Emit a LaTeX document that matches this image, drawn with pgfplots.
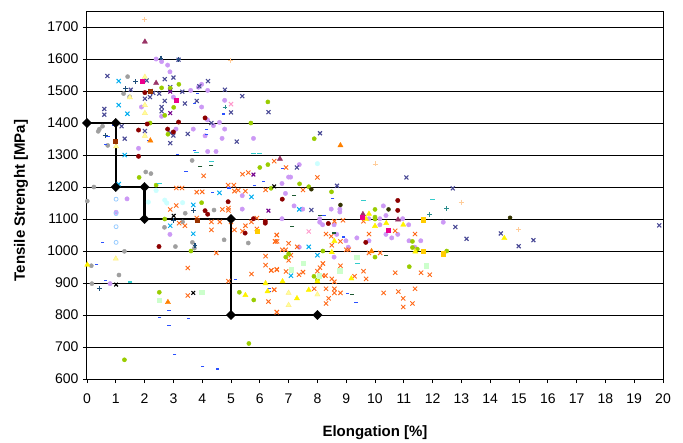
\documentclass[border=0pt]{standalone}
\usepackage{fontspec}
\setmainfont{Liberation Sans}
\usepackage{pgfplots}
\pgfplotsset{compat=1.18}
\usetikzlibrary{plotmarks}
\definecolor{slate}{HTML}{4A4A96}
\definecolor{lav}{HTML}{CC99F5}
\definecolor{oran}{HTML}{FF6A1A}
\definecolor{lime}{HTML}{99CC00}
\definecolor{maroonT}{HTML}{993366}
\definecolor{gold}{HTML}{FFCC00}
\definecolor{brownS}{HTML}{993300}
\definecolor{darkB}{HTML}{1F4E79}
\definecolor{tealP}{HTML}{2A8C8C}
\definecolor{cyanD}{HTML}{33CCCC}
\definecolor{dkG}{HTML}{1E5A32}
\definecolor{peach}{HTML}{FFCC99}
\definecolor{palecy}{HTML}{CCFFFF}
\definecolor{palegr}{HTML}{CCFFCC}
\definecolor{paley}{HTML}{FFFF99}
\definecolor{ltblue}{HTML}{99CCFF}
\definecolor{olive2}{HTML}{333300}
\definecolor{pinkx}{HTML}{FF99CC}
\definecolor{blueD}{HTML}{2A50FF}
\begin{document}
\begin{tikzpicture}
\useasboundingbox (-87pt,-63pt) rectangle (596pt,379pt);
\begin{axis}[
  scale only axis, width=576pt, height=367pt,
  at={(0pt,0pt)}, anchor=south west,
  xmin=0, xmax=20, ymin=600, ymax=1747,
  xtick={0,1,...,20}, ytick={600,700,...,1700},
  ymajorgrids, grid style={black,line width=0.9pt},
  axis line style={black,line width=1pt},
  tick style={black,line width=0.8pt},
  tick align=outside, major tick length=4pt,
  xtick pos=bottom, ytick pos=left,
  clip=false,
  ticklabel style={font=\fontsize{14}{16}\selectfont},
  yticklabel style={xshift=-1pt},
  xticklabel style={yshift=-7pt},
  /pgf/number format/assume math mode=true,
  /pgf/number format/1000 sep={},
  xlabel={\textbf{Elongation [\%]}},
  ylabel={\textbf{Tensile Strenght [MPa]}},
  label style={font=\fontsize{15}{17}\selectfont},
  xlabel style={at={(axis description cs:0.5,0)},anchor=center,yshift=-54pt},
  ylabel style={at={(axis description cs:0,0.5)},anchor=center,yshift=66pt,xshift=-5pt},
]
% lavender dots
\addplot[only marks,mark=*,mark size=2.2pt,color=lav] coordinates {
(2.4,1600)(2.59,1592)(2.8,1581)(2.88,1560)(3.98,1521)(3.87,1512)(3.6,1502)(4.19,1502)(3.0,1481)(1.89,1450)(3.98,1450)(4.78,1471)(2.59,1421)(4.18,1410)(4.39,1392)(4.6,1402)(4.78,1381)(3.69,1381)(3.09,1381)(4.1,1360)(4.69,1352)(5.78,1352)(1.79,1321)(4.19,1311)(4.48,1311)(1.39,1163)(5.39,1173)(7.37,1270)(7.0,1231)(7.07,1231)(6.77,1211)(6.89,1180)(7.19,1141)(7.49,1131)(6.77,1101)(8.08,1101)(8.08,1090)(8.18,1082)(8.58,1082)(8.48,1131)(8.78,1131)(8.78,1122)(10.29,1141)(10.38,1111)(10.17,1101)(9.79,1101)(10.96,1101)(10.17,1082)(11.17,1082)(12.37,1090)(10.38,1052)(10.79,1052)(10.58,1041)(9.37,1041)(9.79,1032)(8.99,1032)(11.18,1032)(11.59,1032)(8.67,1052)(7.37,1012)(8.58,981)(9.07,1012)(11.38,1012)(5.39,1131)(1.01,1121)(2.88,1052)(0.8,898)};
% gray dots
\addplot[only marks,mark=*,mark size=2.1pt,color=gray!75] coordinates {
(1.41,1545)(1.27,1492)(1.48,1482)(0.54,1390)(0.43,1381)(0.39,1374)(0.72,1330)(3.65,1283)(2.04,1247)(2.22,1242)(0.24,1200)(0.01,1156)(3.41,1118)(4.41,1128)(3.32,1091)(2.69,1074)(3.66,1027)(4.76,1035)(5.6,1025)(3.07,1014)(1.3,999)(0.15,954)(1.11,925)(0.17,898)(3.73,1009)};
% orange x
\addplot[only marks,mark=x,mark size=3pt,color=oran,mark options={line width=0.9pt}] coordinates {
(6.5,1281)(6.91,1261)(8.0,1230)(7.5,1191)(8.59,1093)(8.89,1096)(9.6,1093)(9.79,1053)(10.7,1063)(11.39,1053)(8.3,1053)(8.48,1046)(8.8,1030)(8.5,1018)(9.0,1004)(9.09,1004)(6.59,1050)(6.54,1030)(7.0,1024)(7.3,1013)(6.78,1004)(6.9,1004)(7.08,987)(7.0,971)(8.19,961)(8.09,948)(8.0,937)(8.8,954)(9.6,937)(10.18,994)(9.79,994)(10.7,932)(11.6,932)(11.9,926)(6.91,936)(6.59,941)(6.4,939)(7.5,934)(7.36,926)(8.18,923)(8.28,923)(8.5,913)(8.59,904)(9.29,921)(9.69,913)(7.89,882)(8.3,882)(8.59,882)(8.59,869)(8.8,869)(8.39,852)(8.3,836)(10.3,869)(10.81,873)(10.98,852)(11.3,836)(10.98,825)(11.39,882)(6.5,879)(6.59,809)
(3.81,1184)(2.89,1130)(3.1,1142)(5.12,1187)(5.5,1187)(6.2,1191)(4.7,1130)(4.91,1134)(4.91,1127)(3.81,1103)(4.32,1091)(4.61,1091)(3.2,1087)(3.4,1079)(4.32,1066)(5.12,1066)(5.4,1062)(5.5,1079)(5.71,1091)(5.9,1103)(5.9,1069)(5.0,1091)(6.59,1050)(6.53,1030)(6.6,1030)(4.49,994)(6.2,984)(6.2,956)(6.4,940)(6.59,943)(3.5,947)(5.71,928)(4.91,906)(6.5,879)(3.5,861)(6.3,842)(6.59,809)(3.1,1197)(3.3,1197)(4.9,1206)(5.1,1206)(5.25,1190)(5.4,1240)(5.6,1245)(4.0,1185)(4.05,1235)};
% slate x
\addplot[only marks,mark=x,mark size=2.8pt,color=slate,mark options={line width=1.1pt}] coordinates {
(0.71,1547)(1.52,1504)(2.07,1533)(2.7,1537)(3.0,1542)(3.18,1598)(4.2,1531)(3.9,1515)(2.89,1512)(2.89,1504)(3.31,1498)(2.51,1492)(2.21,1500)(2.3,1494)(2.19,1481)(2.01,1476)(2.7,1469)(3.81,1469)(3.4,1461)(2.59,1450)(2.59,1437)(0.6,1444)(0.6,1426)(4.79,1504)(5.39,1484)(5,1433)(6.3,1434)(1.2,1390)(2.01,1375)(1.31,1351)(3.0,1361)(2.89,1369)(3.5,1366)(4.32,1400)(2.89,1337)(5.2,1342)
(8.09,1368)(7.29,1261)(8.68,1204)(11.09,1230)(12.7,1196)(7.79,1128)(12.79,1075)(13.18,1038)(14.37,1055)(14.99,1015)(15.5,1034)(19.87,1080)};
% blue dashes
\addplot[only marks,mark=-,mark size=1.6pt,color=blueD,mark options={line width=1.2pt}] coordinates {
(0.54,1026)(0.34,958)(0.63,907)(5.15,911)(2.53,793)(2.85,813)(2.85,768)(3.52,790)(3.05,677)(4.02,640)(4.53,631)(6.33,883)(6.33,874)(4.35,1182)(0.73,1358)(0.63,1334)(0.91,1392)(3.14,1302)(3.44,1248)(4.93,1197)(5.82,1204)(6.12,1217)(3.73,1314)(4.16,1379)(4.16,1364)(4.73,1428)(3.73,1461)(3.83,1492)(2.13,1345)(6.8,1258)(8.53,1163)(8.23,1110)(8.92,1044)(8.83,944)(9.04,866)(9.34,840)};
% lime dots
\addplot[only marks,mark=*,mark size=2.1pt,color=lime] coordinates {
(2.59,1510)(3.19,1521)(2.89,1509)(6.28,1466)(3.01,1449)(2.7,1424)(2.19,1400)(5.69,1400)(2.81,1365)(1.81,1230)(2.4,1206)(6.0,1261)(6.28,1270)(6.39,1196)(3.98,1151)(2.7,1100)(5.0,1096)(3.61,1000)(2.51,871)(5.29,871)(5.79,847)(5.62,711)(1.3,660)(7.89,1351)(7.38,1210)(7.7,1201)(8.49,1185)(10.0,1130)(10.0,1106)(10.0,1100)(11.3,1030)(11.3,1011)(11.47,1006)(12.49,1000)(8.19,1000)(10.0,981)(11.19,951)(7.0,991)(6.9,981)(7.88,921)(8.0,910)};
% dark red
\addplot[only marks,mark=*,mark size=2.2pt,color=black!45!red] coordinates {
(2.01,1495)(3.18,1403)(2.09,1397)(1.79,1378)(2.8,1381)(3.0,1372)(4.1,1416)(1.79,1296)(2.5,1014)(4.1,1126)(4.19,1115)(4.9,1154)(5.49,1056)(5.78,1101)(6.19,1093)(6.19,1087)(6.78,1162)(10.79,1158)(10.79,1127)(8.38,1086)(9.68,1027)};
% cyan x
\addplot[only marks,mark=x,mark size=3pt,color=cyan,mark options={line width=1pt}] coordinates {
(1.1,1531)(1.1,1456)(1.4,1429)(1.31,1300)(1.1,1209)(4.6,1182)(5.71,1169)(3.69,1144)(2.89,1079)(3.69,1054)(7.37,1130)(7.7,1013)(8.0,987)(7.08,923)};
% pale yellow triangles
\addplot[only marks,mark=triangle*,mark size=3pt,color=paley,mark options={draw=paley!85!orange}] coordinates {
(2.01,1544)(1.49,1480)(2.01,1456)(2.01,1431)(2.01,1360)(1.01,1327)(1.0,976)(7.0,869)(8.0,864)(7.0,831)};
% yellow triangles
\addplot[only marks,mark=triangle*,mark size=3pt,color=yellow] coordinates {
(0.01,957)(8.59,1031)(8.5,996)(9.79,1116)(10.39,1087)(10.0,1078)(10.98,1082)(9.69,1100)(6.79,905)(7.7,878)(8.0,905)(9.18,914)(7.29,852)(11.4,998)(6.2,899)(5.5,862)(6.27,874)(14.49,1040)};
% orange triangles
\addplot[only marks,mark=triangle*,mark size=3pt,color=orange] coordinates {(2.2,1345)(8.8,1330)(9.88,999)(2.81,840)};
% maroon triangles
\addplot[only marks,mark=triangle*,mark size=3pt,color=maroonT] coordinates {(2.01,1654)(2.4,1525)(6.7,1288)(9.58,1115)(10.8,1098)};
% magenta squares
\addplot[only marks,mark=square*,mark size=2pt,color=magenta] coordinates {(1.9,1530)(3.09,1471)(9.57,1106)(10.47,1064)};
% purple x
\addplot[only marks,mark=x,mark size=2.6pt,color=purple!60!blue,mark options={line width=1.1pt}] coordinates {(2.89,1431)(2.89,1498)(5.78,1239)(6.3,1126)};
% gold squares
\addplot[only marks,mark=square*,mark size=2.2pt,color=gold] coordinates {(11.68,1098)(11.68,1000)(12.37,991)(5.9,1062)};
% brown squares
\addplot[only marks,mark=square*,mark size=2pt,color=brownS] coordinates {(0.97,1343)(2.21,1500)(3.83,1095)};
% cyan dashes
\addplot[only marks,mark=-,mark size=2.3pt,color=cyanD,mark options={line width=1.2pt}] coordinates {(3.81,1309)(4.32,1280)(5.78,1306)(6.0,1306)(2.51,1211)(1.5,903)(9.6,1157)(11.99,1162)(9.39,962)};
% dark green dashes
\addplot[only marks,mark=-,mark size=2pt,color=dkG,mark options={line width=1.2pt}] coordinates {(3.94,1264)(4.32,1268)(7.19,1173)(8.09,1110)(8.59,1056)(10.39,986)(7.12,1076)(9.2,864)};
% peach plus
\addplot[only marks,mark=+,mark size=2.5pt,color=peach,mark options={line width=0.9pt}] coordinates {(2.01,1725)(4.99,1596)(10.0,1272)(12.99,1153)(14.99,1067)};
% teal plus
\addplot[only marks,mark=+,mark size=2.4pt,color=tealP,mark options={line width=0.9pt}] coordinates {(4.79,1450)(11.89,1113)(12.48,1132)};
% dark blue plus
\addplot[only marks,mark=+,mark size=2.4pt,color=darkB,mark options={line width=1.1pt}] coordinates {(2.57,1603)(3.18,1598)(1.33,1508)(1.69,1530)(0.63,1360)(0.43,883)(3.0,1096)(3.69,1127)(3.75,1017)};
% black x
\addplot[only marks,mark=x,mark size=2.6pt,color=black,mark options={line width=1.1pt}] coordinates {(6.5,1202)(1.01,895)(3.69,869)(3.01,1110)};
% dark olive
\addplot[only marks,mark=*,mark size=2pt,color=olive2] coordinates {(7.79,1193)(8.8,1144)(10.47,1130)(14.69,1104)};
% pale cyan
\addplot[only marks,mark=*,mark size=2.3pt,color=palecy] coordinates {(2.4,1189)(2.13,1153)(2.7,1159)(2.77,1150)(3.32,1151)(8.0,1273)};
% pale green squares
\addplot[only marks,mark=square*,mark size=2.2pt,color=palegr] coordinates {(2.5,846)(3.98,872)(7.5,962)(7.08,941)(8.07,923)(9.37,980)(11.77,954)(8.77,938)};
% open light blue circles
\addplot[only marks,mark=o,mark size=2pt,color=ltblue,mark options={line width=0.8pt}] coordinates {(1.01,1162)(1.01,1117)(1.01,1076)(1.01,1027)};
% pink x
\addplot[only marks,mark=x,mark size=3pt,color=pinkx,mark options={line width=1pt}] coordinates {(5.0,1459)(7.7,1061)};
% step line
\addplot[black,line width=2.2pt,mark=square*,mark size=3.3pt,mark options={fill=black,solid,line width=0.3pt,rotate=45}] coordinates {(0,1400)(1,1400)(1,1200)(2,1200)(2,1100)(5,1100)(5,800)(8,800)};
\end{axis}
\end{tikzpicture}
\end{document}
